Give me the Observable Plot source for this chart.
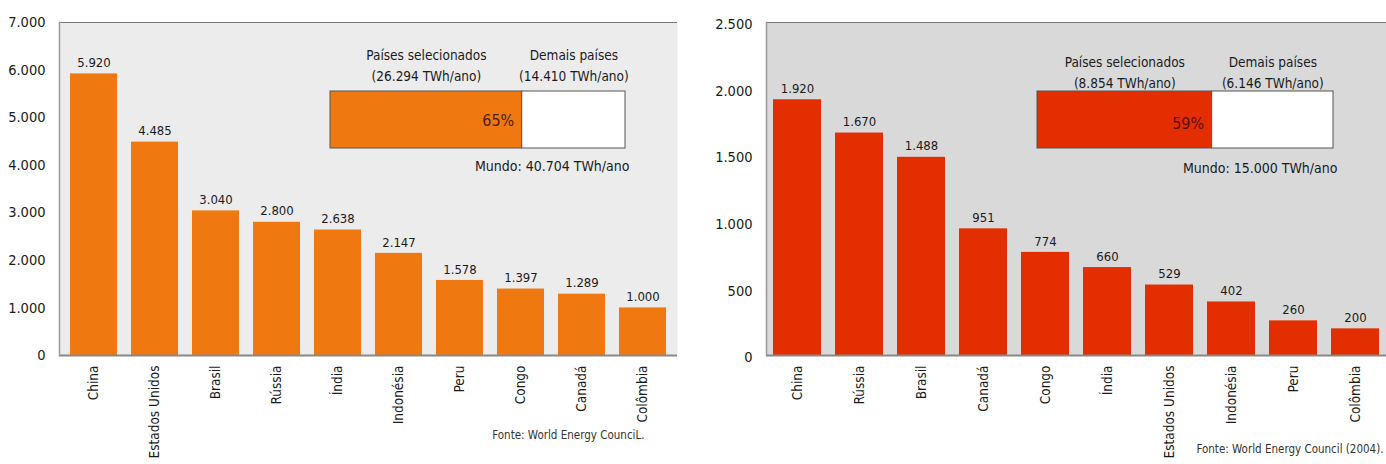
<!DOCTYPE html>
<html><head><meta charset="utf-8">
<script src="https://cdn.jsdelivr.net/npm/d3@7"></script>
<script src="https://cdn.jsdelivr.net/npm/@observablehq/plot@0.6"></script>
<style>
body{margin:0;background:#fff;}
#wrap{display:flex;width:1386px;height:464px;}
.panel{position:relative;width:693px;height:464px;}
.inset{position:absolute;}
svg{overflow:visible}
</style></head><body>
<div id="wrap"><div class="panel" id="p1"></div><div class="panel" id="p2"></div></div>
<script>
// Panel A (orange)
const countriesA = ["China","Estados Unidos","Brasil","Rússia","Índia","Indonésia","Peru","Congo","Canadá","Colômbia"];
const valuesA = [5920,4485,3040,2800,2638,2147,1578,1397,1289,1000];
const yTicksA = [0,1000,2000,3000,4000,5000,6000,7000];
const pctA = 65;
const selA = "(26.294 TWh/ano)";
const restA = "(14.410 TWh/ano)";
const worldA = "Mundo: 40.704 TWh/ano";
const sourceA = "Fonte: World Energy CounciL.";

// Panel B (red)
const countriesB = ["China","Rússia","Brasil","Canadá","Congo","Índia","Estados Unidos","Indonésia","Peru","Colômbia"];
const valuesB = [1920,1670,1488,951,774,660,529,402,260,200];
const yTicksB = [0,500,1000,1500,2000,2500];
const pctB = 59;
const selB = "(8.854 TWh/ano)";
const restB = "(6.146 TWh/ano)";
const worldB = "Mundo: 15.000 TWh/ano";
const sourceB = "Fonte: World Energy Council (2004).";

const FONT = "'DejaVu Sans Condensed','Liberation Sans Narrow','DejaVu Sans',sans-serif";
const fmt = d3.formatLocale({decimal:",", thousands:".", grouping:[3], currency:["",""]}).format(",d");

function panel(o) {
  const data = o.cats.map((c,i)=>({c, v:o.vals[i]}));
  const yMax = o.ticks[o.ticks.length-1];
  return Plot.plot({
    width: 693, height: 464, marginTop: 22, marginBottom: 109,
    marginLeft: o.ml, marginRight: o.mr,
    style: {fontFamily: FONT, fontSize: "14px", color: "#222", background: "transparent", overflow: "visible"},
    x: {domain: o.cats, paddingInner: 0.23, paddingOuter: 0.113, label: null, axis: null},
    y: {domain: [0, yMax], label: null, axis: null},
    marks: [
      Plot.frame({fill: o.bg}),
      Plot.axisY({ticks: o.ticks, tickSize: 0, tickPadding: 14, tickFormat: fmt, fontSize: 14.5, fill: "#1a1a1a", dy: o.tdy}),
      Plot.axisX({tickSize: 0, tickPadding: 10, tickRotate: -90, fontSize: 13.5, fill: "#1a1a1a"}),
      Plot.barY(data, {x: "c", y: "v", fill: o.fill}),
      Plot.text(data, {x: "c", y: "v", text: d=>fmt(d.v), dy: -11, fontSize: 13, fill: "#1a1a1a"}),
      Plot.ruleY([yMax], {stroke: "#777"}),
      Plot.ruleY([0], {stroke: "#888", strokeWidth: 2}),
      Plot.frame({anchor: "left", stroke: "#999", strokeWidth: 1.5}),
      Plot.text([o.source], {frameAnchor: "bottom-right", textAnchor: "end", dx: o.sdx, dy: o.sdy, fontSize: 11.5, fill: "#333"})
    ]
  });
}

function inset(o) {
  const segs = [
    {a: 0, b: o.pct, label: "Países selecionados", sub: o.sel},
    {a: o.pct, b: 100, label: "Demais países", sub: o.rest}
  ];
  const el = Plot.plot({
    width: o.w + 40, height: 160, marginLeft: 20, marginRight: 20, marginTop: 61, marginBottom: 42,
    style: {fontFamily: FONT, fontSize: "14px", color: "#222", background: "transparent", overflow: "visible"},
    x: {domain: [0, 100], axis: null},
    marks: [
      Plot.rectX([segs[0]], {x1: "a", x2: "b", fill: o.fill, stroke: "#555", strokeWidth: 1}),
      Plot.rectX([segs[1]], {x1: "a", x2: "b", fill: "#fff", stroke: "#555", strokeWidth: 1}),
      Plot.text(segs, {x: d=>(d.a+d.b)/2, text: "label", frameAnchor: "top", dy: o.d1, fontSize: 13.5, fill: "#1a1a1a"}),
      Plot.text(segs, {x: d=>(d.a+d.b)/2, text: "sub", frameAnchor: "top", dy: o.d2, fontSize: 13.5, fill: "#1a1a1a"}),
      Plot.text([o.pct], {x: d=>d, text: d=>d+"%", frameAnchor: "middle", textAnchor: "end", dx: -8, dy: o.dp, fontSize: 16, fill: o.pctColor, letterSpacing: "1px"}),
      Plot.text([o.world], {x: ()=>100, text: d=>d, frameAnchor: "bottom", textAnchor: "end", dx: 4, dy: o.dm, fontSize: 14, fill: "#1a1a1a"})
    ]
  });
  el.classList.add("inset");
  el.style.left = o.left + "px";
  el.style.top = o.top + "px";
  return el;
}

const p1 = document.getElementById("p1");
const p2 = document.getElementById("p2");
p1.append(panel({cats: countriesA, vals: valuesA, ticks: yTicksA, fill: "#ef7810", bg: "#ececec", ml: 59, mr: 16, tdy: 0, source: sourceA, sdx: -33, sdy: 83}));
p1.append(inset({pct: pctA, sel: selA, rest: restA, world: worldA, fill: "#ef7810", pctColor: "#4a2000", w: 295, left: 310, top: 30, d1: -41, d2: -20, dp: 1, dm: 22}));
p2.append(panel({cats: countriesB, vals: valuesB, ticks: yTicksB, fill: "#e22e00", bg: "#d9d9d9", ml: 73, mr: 0, tdy: 2, source: sourceB, sdx: -3, sdy: 97}));
p2.append(inset({pct: pctB, sel: selB, rest: restB, world: worldB, fill: "#e22e00", pctColor: "#5a0e00", w: 296, left: 324, top: 30, d1: -34, d2: -13, dp: 4, dm: 24}));
</script>
</body></html>
